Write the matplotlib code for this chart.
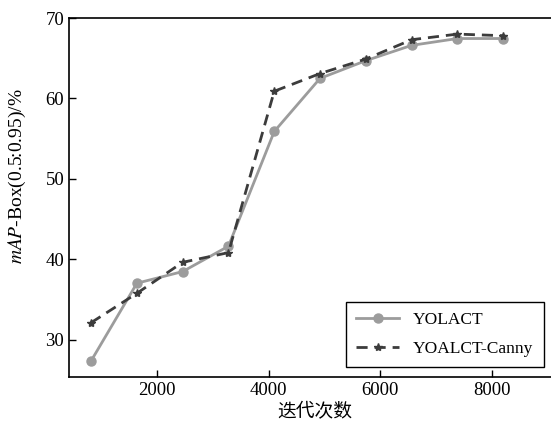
import matplotlib
matplotlib.use("Agg")
import matplotlib.pyplot as plt

iterations = [820, 1640, 2460, 3280, 4100, 4920, 5740, 6560, 7380, 8200]
yolact = [27.4, 37.05, 38.5, 41.65, 55.9, 62.5, 64.7, 66.6, 67.45, 67.45]
yolact_canny = [32.15, 35.8, 39.65, 40.85, 60.9, 63.1, 64.9, 67.3, 68.0, 67.8]
series_labels = ["YOLACT", "YOALCT-Canny"]
xticks = [2000, 4000, 6000, 8000]
yticks = [30, 40, 50, 60, 70]

plt.rcParams['font.family'] = ['Liberation Serif', 'Noto Sans CJK SC']
plt.rcParams['mathtext.fontset'] = 'stix'

fig = plt.figure(figsize=(5.51, 4.32), dpi=100)
ax = fig.add_axes([69/551, 55/432, 491/551, 359/432])

ax.plot(iterations, yolact, color='#9c9c9c', lw=2.0, marker='o', ms=6.5,
        label=series_labels[0], zorder=2)
ax.plot(iterations, yolact_canny, color='#3c3c3c', lw=2.0, ls=(0, (4, 2.5)),
        marker='*', ms=6, label=series_labels[1], zorder=3)

ax.set_xlim(424, 9218)
ax.set_ylim(25.4, 70)
ax.set_xticks(xticks)
ax.set_yticks(yticks)
ax.tick_params(direction='in', labelsize=13.5, length=5, width=1)
ax.spines['right'].set_visible(False)
for s in ['left', 'bottom', 'top']:
    ax.spines[s].set_linewidth(1.2)

ax.set_xlabel('迭代次数', fontsize=13.5, family=['Noto Sans CJK SC'], labelpad=2)
ax.set_ylabel(r'$\mathit{mAP}$-Box(0.5:0.95)/%', fontsize=14)
ax.yaxis.set_label_coords(-0.083, 0.56)

leg = ax.legend(loc='lower right', bbox_to_anchor=(544/551, 65/432),
                bbox_transform=fig.transFigure, fancybox=False, edgecolor='black',
                prop={'size': 12.5}, borderaxespad=0,
                handlelength=2.5, framealpha=1, borderpad=0.6, labelspacing=0.7)
leg.get_frame().set_linewidth(1.0)

fig.savefig('out.png', dpi=100)
